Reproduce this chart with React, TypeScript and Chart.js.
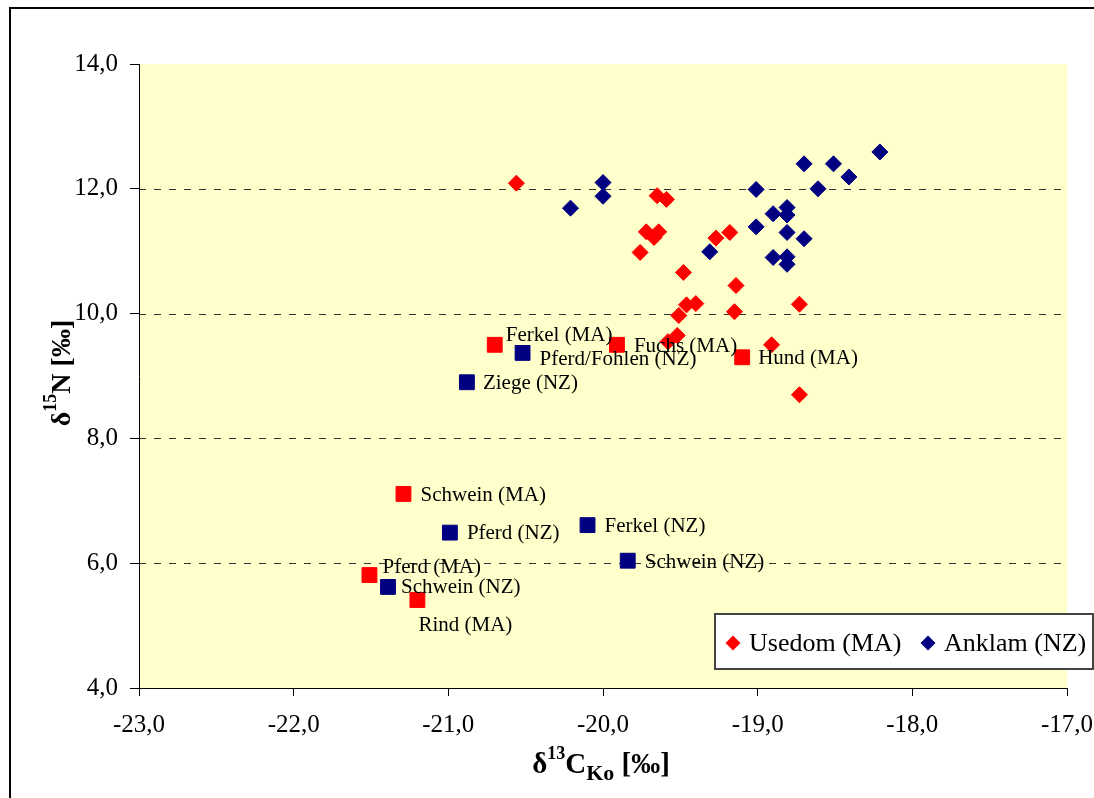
import React, { useEffect, useRef } from "react";
import { Chart, registerables } from "chart.js";

Chart.register(...registerables);

// ---- data ----
const xTicks = [-23, -22, -21, -20, -19, -18, -17];
const yTicks = [4, 6, 8, 10, 12, 14];

const usedomX = [-20.56, -19.65, -19.59, -19.72, -19.64, -19.67, -19.76, -19.48, -19.27, -19.18, -19.14, -19.46, -19.40, -19.51, -19.15, -18.73, -19.52, -19.58, -18.91, -18.73];
const usedomY = [12.09, 11.89, 11.83, 11.31, 11.31, 11.22, 10.98, 10.66, 11.21, 11.30, 10.45, 10.14, 10.16, 9.97, 10.03, 10.15, 9.65, 9.55, 9.50, 8.70];

const anklamX = [-20.21, -20.0, -20.0, -19.31, -18.70, -18.51, -18.21, -18.41, -19.01, -18.61, -18.90, -18.81, -18.81, -19.01, -18.81, -18.70, -18.90, -18.81, -18.81];
const anklamY = [11.69, 12.10, 11.88, 10.99, 12.40, 12.40, 12.59, 12.19, 11.99, 12.0, 11.60, 11.70, 11.58, 11.39, 11.30, 11.20, 10.90, 10.91, 10.79];

const refMANames = ["Ferkel (MA)", "Fuchs (MA)", "Hund (MA)", "Schwein (MA)", "Pferd (MA)", "Rind (MA)"];
const refMAX = [-20.70, -19.91, -19.10, -21.29, -21.51, -21.20];
const refMAY = [9.50, 9.50, 9.30, 7.11, 5.81, 5.41];

const refNZNames = ["Pferd/Fohlen (NZ)", "Ziege (NZ)", "Pferd (NZ)", "Ferkel (NZ)", "Schwein (NZ)", "Schwein (NZ)"];
const refNZX = [-20.52, -20.88, -20.99, -20.10, -19.84, -21.39];
const refNZY = [9.37, 8.90, 6.49, 6.61, 6.04, 5.62];

// ---- styling ----
const FONT = "'Liberation Serif', 'Times New Roman', serif";
const RED = "#FF0000";
const NAVY = "#000080";
// label text offsets from marker centre (left edge, baseline)
const maLabelOffsets = [[11, -4], [17, 7], [16, 7], [17, 7], [13, -2], [1, 31]];
const nzLabelOffsets = [[17, 12], [16, 7], [17, 6], [17, 7], [17, 7], [13, 6]];

const fmt = (v: number) => v.toFixed(1).replace(".", ",");

function drawRich(ctx: CanvasRenderingContext2D, parts: { t: string; size: number; dy: number }[], cx: number, baseY: number) {
  let total = 0;
  for (const p of parts) {
    ctx.font = `bold ${p.size}px ${FONT}`;
    total += ctx.measureText(p.t).width;
  }
  let x = cx - total / 2;
  ctx.textAlign = "left";
  ctx.textBaseline = "alphabetic";
  ctx.fillStyle = "#000";
  for (const p of parts) {
    ctx.font = `bold ${p.size}px ${FONT}`;
    ctx.fillText(p.t, x, baseY + p.dy);
    x += ctx.measureText(p.t).width;
  }
}

function diamond(ctx: CanvasRenderingContext2D, x: number, y: number, r: number, color: string) {
  ctx.beginPath();
  ctx.moveTo(x, y - r);
  ctx.lineTo(x + r, y);
  ctx.lineTo(x, y + r);
  ctx.lineTo(x - r, y);
  ctx.closePath();
  ctx.fillStyle = color;
  ctx.fill();
}

const decorPlugin = {
  id: "decor",
  beforeDraw(chart: any) {
    const { ctx, chartArea } = chart;
    ctx.save();
    ctx.fillStyle = "#FFFFFF";
    ctx.fillRect(0, 0, chart.width, chart.height);
    ctx.fillStyle = "#FFFFCC";
    ctx.fillRect(chartArea.left, chartArea.top, chartArea.right - chartArea.left, chartArea.bottom - chartArea.top);
    // dashed horizontal grid lines
    const ys = chart.scales.y;
    ctx.strokeStyle = "#333333";
    ctx.lineWidth = 1;
    ctx.setLineDash([7, 8]);
    for (const v of yTicks) {
      if (v === ys.min || v === ys.max) continue;
      const py = Math.round(ys.getPixelForValue(v)) + 0.5;
      ctx.beginPath();
      ctx.moveTo(chartArea.left, py);
      ctx.lineTo(chartArea.right, py);
      ctx.stroke();
    }
    ctx.restore();
  },
  afterDatasetsDraw(chart: any) {
    const { ctx } = chart;
    ctx.save();
    ctx.font = `21px ${FONT}`;
    ctx.fillStyle = "#000";
    ctx.textAlign = "left";
    ctx.textBaseline = "alphabetic";
    const sets: [number, string[], number[][]][] = [[2, refMANames, maLabelOffsets], [3, refNZNames, nzLabelOffsets]];
    for (const [di, names, offs] of sets) {
      const meta = chart.getDatasetMeta(di);
      meta.data.forEach((el: any, i: number) => {
        ctx.fillText(names[i], el.x + offs[i][0], el.y + offs[i][1]);
      });
    }
    ctx.restore();
  },
  afterDraw(chart: any) {
    const { ctx, chartArea } = chart;
    ctx.save();
    // outer frame
    ctx.strokeStyle = "#000";
    ctx.lineWidth = 2;
    ctx.strokeRect(10, 8, chart.width + 20, chart.height + 20);

    // legend
    const lx = chartArea.right - 352;
    const ly = chartArea.bottom - 74;
    ctx.fillStyle = "#FFFFFF";
    ctx.fillRect(lx, ly, 378, 55);
    ctx.strokeStyle = "#444";
    ctx.lineWidth = 2;
    ctx.strokeRect(lx, ly, 378, 55);
    const items = chart.data.datasets.slice(0, 2);
    const itemX = [lx + 18, lx + 213];
    items.forEach((ds: any, i: number) => {
      diamond(ctx, itemX[i], ly + 29, 7.5, ds.backgroundColor);
      ctx.font = `26px ${FONT}`;
      ctx.fillStyle = "#000";
      ctx.textAlign = "left";
      ctx.textBaseline = "alphabetic";
      ctx.fillText(ds.label, itemX[i] + 16, ly + 37);
    });

    // axis titles
    const xc = (chartArea.left + chartArea.right) / 2 - 2;
    drawRich(ctx, [
      { t: "δ", size: 29, dy: 0 },
      { t: "13", size: 18, dy: -14 },
      { t: "C", size: 29, dy: 0 },
      { t: "Ko", size: 22, dy: 7 },
      { t: " [‰]", size: 29, dy: 0 },
    ], xc, 773);

    ctx.save();
    ctx.translate(70, (chartArea.top + chartArea.bottom) / 2 - 3);
    ctx.rotate(-Math.PI / 2);
    drawRich(ctx, [
      { t: "δ", size: 28, dy: 0 },
      { t: "15", size: 18, dy: -14 },
      { t: "N", size: 28, dy: 0 },
      { t: " [‰]", size: 28, dy: 0 },
    ], 0, 0);
    ctx.restore();
    ctx.restore();
  },
};

export default function App() {
  const ref = useRef<HTMLCanvasElement | null>(null);
  useEffect(() => {
    if (!ref.current) return;
    const chart = new Chart(ref.current, {
      type: "scatter",
      data: {
        datasets: [
          {
            label: "Usedom (MA)",
            data: usedomX.map((x, i) => ({ x, y: usedomY[i] })),
            pointStyle: "rectRot",
            pointRadius: 8,
            backgroundColor: RED,
            borderColor: RED,
            borderWidth: 1,
          },
          {
            label: "Anklam (NZ)",
            data: anklamX.map((x, i) => ({ x, y: anklamY[i] })),
            pointStyle: "rectRot",
            pointRadius: 8,
            backgroundColor: NAVY,
            borderColor: NAVY,
            borderWidth: 1,
          },
          {
            label: "Referenz (MA)",
            data: refMAX.map((x, i) => ({ x, y: refMAY[i] })),
            pointStyle: "rect",
            pointRadius: 10.5,
            backgroundColor: RED,
            borderColor: RED,
            borderWidth: 1,
          },
          {
            label: "Referenz (NZ)",
            data: refNZX.map((x, i) => ({ x, y: refNZY[i] })),
            pointStyle: "rect",
            pointRadius: 10.5,
            backgroundColor: NAVY,
            borderColor: NAVY,
            borderWidth: 1,
          },
        ],
      },
      options: {
        responsive: false,
        animation: false,
        devicePixelRatio: 1,
        layout: { padding: { left: 0, top: 64, right: 27, bottom: 0 } },
        plugins: { legend: { display: false }, tooltip: { enabled: false }, title: { display: false } },
        scales: {
          x: {
            type: "linear",
            min: -23,
            max: -17,
            afterBuildTicks: (s: any) => { s.ticks = xTicks.map((v) => ({ value: v })); },
            afterFit: (s: any) => { s.height = 110; s.paddingRight = 0; s.paddingLeft = 0; },
            ticks: { font: { family: FONT, size: 25 }, color: "#000", padding: 14, maxRotation: 0, autoSkip: false, callback: (v: any) => fmt(Number(v)) },
            grid: { drawOnChartArea: false, drawTicks: true, tickLength: 8, tickColor: "#000", tickWidth: 1 },
            border: { color: "#000", width: 1 },
          },
          y: {
            type: "linear",
            min: 4,
            max: 14,
            afterBuildTicks: (s: any) => { s.ticks = yTicks.map((v) => ({ value: v })); },
            afterFit: (s: any) => { s.width = 139; s.paddingTop = 0; s.paddingBottom = 0; },
            ticks: { font: { family: FONT, size: 25 }, color: "#000", padding: 12, autoSkip: false, callback: (v: any) => fmt(Number(v)) },
            grid: { drawOnChartArea: false, drawTicks: true, tickLength: 9, tickColor: "#000", tickWidth: 1 },
            border: { color: "#000", width: 1 },
          },
        },
      },
      plugins: [decorPlugin],
    } as any);
    return () => chart.destroy();
  }, []);
  return (
    <div style={{ position: "fixed", left: 0, top: 0, width: 1094, height: 798 }}>
      <canvas ref={ref} width={1094} height={798} style={{ display: "block", width: 1094, height: 798 }} />
    </div>
  );
}
